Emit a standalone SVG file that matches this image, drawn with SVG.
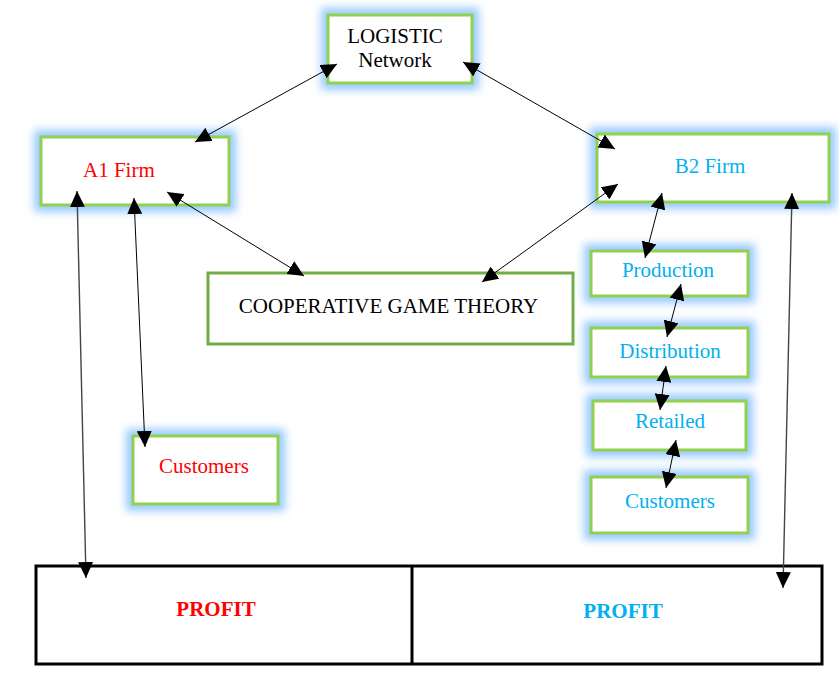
<svg xmlns="http://www.w3.org/2000/svg" width="839" height="697" viewBox="0 0 839 697">
<style>
  text{font-family:"Liberation Serif","Times New Roman",serif;font-size:21px}
  .box{fill:#fff;stroke:#92D050;stroke-width:3}
  .glow{fill:none;stroke:#9ACBFF;stroke-width:14;filter:url(#blur)}
  .red{fill:#FF0000}
  .blue{fill:#00B0F0}
  .blk{fill:#000}
  .b{font-weight:bold}
  .con{stroke:#000;stroke-width:1;fill:none;marker-start:url(#ah);marker-end:url(#ah)}
  .con2{stroke:#444;stroke-width:1.4;fill:none;marker-start:url(#ah);marker-end:url(#ah)}
</style>
<defs>
  <filter id="blur" x="-20%" y="-50%" width="140%" height="200%"><feGaussianBlur stdDeviation="4"/></filter>
  <marker id="ah" viewBox="0 0 16 15" refX="16" refY="7.5" markerWidth="16" markerHeight="15" markerUnits="userSpaceOnUse" orient="auto-start-reverse">
    <path d="M0,0 L16,7.5 L0,15 Z" fill="#000"/>
  </marker>
</defs>
<rect width="839" height="697" fill="#fff"/>

<g id="logistic">
  <rect class="glow" x="328" y="15" width="144" height="68"/>
  <rect class="box" x="328" y="15" width="144" height="68"/>
  <text class="blk" x="395" y="43" text-anchor="middle">LOGISTIC</text>
  <text class="blk" x="395" y="67" text-anchor="middle">Network</text>
</g>
<g id="a1firm">
  <rect class="glow" x="41" y="137" width="188" height="68"/>
  <rect class="box" x="41" y="137" width="188" height="68"/>
  <text class="red" x="83" y="177">A1 Firm</text>
</g>
<g id="b2firm">
  <rect class="glow" x="597" y="134" width="232" height="68"/>
  <rect class="box" x="597" y="134" width="232" height="68"/>
  <text class="blue" x="710" y="173" text-anchor="middle">B2 Firm</text>
</g>
<g id="cooperative">
  <rect x="208" y="273" width="365" height="71" fill="#fff" stroke="#70AD47" stroke-width="3"/>
  <text class="blk" x="388.5" y="313" text-anchor="middle">COOPERATIVE GAME THEORY</text>
</g>
<g id="production">
  <rect class="glow" x="591" y="251" width="157" height="45"/>
  <rect class="box" x="591" y="251" width="157" height="45"/>
  <text class="blue" x="668" y="277" text-anchor="middle">Production</text>
</g>
<g id="distribution">
  <rect class="glow" x="591" y="328" width="157" height="49"/>
  <rect class="box" x="591" y="328" width="157" height="49"/>
  <text class="blue" x="670" y="358" text-anchor="middle">Distribution</text>
</g>
<g id="retailed">
  <rect class="glow" x="593" y="401" width="153" height="49"/>
  <rect class="box" x="593" y="401" width="153" height="49"/>
  <text class="blue" x="670" y="428" text-anchor="middle">Retailed</text>
</g>
<g id="customers-b2">
  <rect class="glow" x="591" y="477" width="157" height="56"/>
  <rect class="box" x="591" y="477" width="157" height="56"/>
  <text class="blue" x="670" y="508" text-anchor="middle">Customers</text>
</g>
<g id="customers-a1">
  <rect class="glow" x="133" y="436" width="145" height="68"/>
  <rect class="box" x="133" y="436" width="145" height="68"/>
  <text class="red" x="159" y="473">Customers</text>
</g>
<g id="profit">
  <rect x="36" y="566" width="786" height="98" fill="#fff" stroke="#000" stroke-width="3"/>
  <line x1="412" y1="566" x2="412" y2="664" stroke="#000" stroke-width="3"/>
  <text class="red b" x="216" y="616" text-anchor="middle">PROFIT</text>
  <text class="blue b" x="623" y="618" text-anchor="middle">PROFIT</text>
</g>

<g id="connectors">
  <line class="con" x1="195" y1="142" x2="337" y2="64"/>
  <line class="con" x1="463" y1="62" x2="615" y2="149"/>
  <line class="con" x1="167" y1="192" x2="304" y2="276"/>
  <line class="con" x1="618" y1="184" x2="482" y2="282"/>
  <line class="con" x1="134" y1="198" x2="145" y2="447"/>
  <line class="con2" x1="77" y1="191" x2="86" y2="578"/>
  <line class="con" x1="662" y1="193" x2="645" y2="258"/>
  <line class="con" x1="681" y1="284" x2="667" y2="337"/>
  <line class="con" x1="666" y1="366" x2="660" y2="410"/>
  <line class="con" x1="676" y1="440" x2="666" y2="488"/>
  <line class="con2" x1="792" y1="193" x2="783" y2="588"/>
</g>
</svg>
